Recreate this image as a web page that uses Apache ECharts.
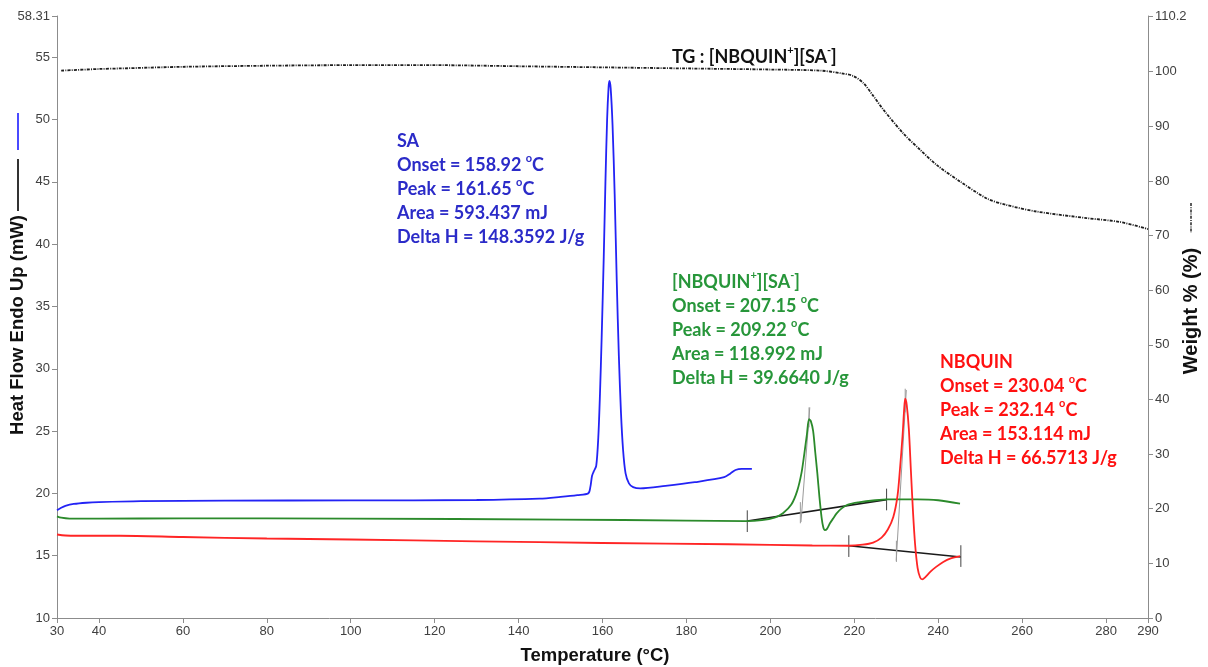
<!DOCTYPE html>
<html>
<head>
<meta charset="utf-8">
<title>DSC / TG — NBQUIN, SA and [NBQUIN+][SA-]</title>
<script src="https://cdn.jsdelivr.net/npm/echarts@6/dist/echarts.min.js"></script>
<style>
  html, body { margin: 0; padding: 0; background: #ffffff; }
  #chart { width: 1208px; height: 667px; }
</style>
</head>
<body>
<div id="chart"></div>
<script>
// ---- axis ticks ----
const tempTicks = [30, 40, 60, 80, 100, 120, 140, 160, 180, 200, 220, 240, 260, 280, 290];
const heatTicks = [10, 15, 20, 25, 30, 35, 40, 45, 50, 55, 58.31];
const weightTicks = [0, 10, 20, 30, 40, 50, 60, 70, 80, 90, 100, 110.2];

// ---- DSC curves: [temperature °C, heat flow mW] ----
const saCurve = [
  [30, 18.65], [31, 18.85], [32, 19.0], [34, 19.15], [37, 19.25], [40, 19.3], [50, 19.38],
  [70, 19.42], [100, 19.44], [130, 19.47], [145, 19.58], [150, 19.72], [154, 19.86],
  [156.6, 20.0], [157.1, 20.5], [157.5, 21.4], [157.9, 21.75], [158.5, 22.2], [159.0, 24.5],
  [159.4, 28.0], [159.8, 32.5], [160.3, 39.0], [160.7, 45.0], [161.1, 50.0], [161.45, 52.6],
  [161.65, 53.1], [161.95, 52.5], [162.4, 49.5], [162.9, 44.0], [163.4, 37.0], [163.9, 31.0],
  [164.4, 26.5], [164.9, 23.5], [165.5, 21.6], [166.3, 20.8], [167.3, 20.5], [169, 20.4],
  [175, 20.6], [182, 20.9], [189, 21.3], [190.5, 21.6], [191.7, 21.88], [193.2, 21.97], [195.6, 21.97]
];
const saltCurve = [
  [30, 18.16], [31, 18.05], [33, 17.98], [40, 17.97], [60, 18.0], [100, 17.98], [150, 17.9],
  [180, 17.82], [194, 17.78], [198, 17.85], [201, 18.05], [203, 18.4], [205, 19.1], [206.4, 20.2],
  [207.4, 21.6], [208.1, 23.2], [208.7, 24.7], [209.22, 25.95], [209.65, 25.8], [210.2, 25.0],
  [210.7, 23.3], [211.2, 21.6], [211.7, 19.7], [212.2, 18.1], [212.6, 17.3], [213.0, 17.05],
  [213.5, 17.15], [214.2, 17.6], [215.0, 18.0], [215.8, 18.4], [217, 18.8], [218.5, 19.1],
  [221, 19.28], [225, 19.45], [228, 19.52], [235, 19.52], [240, 19.45], [245.2, 19.17]
];
const nbquinCurve = [
  [30, 16.7], [32, 16.62], [35, 16.6], [45, 16.6], [60, 16.5], [80, 16.38], [100, 16.3],
  [130, 16.15], [160, 16.02], [190, 15.92], [210, 15.82], [218.6, 15.8], [222, 15.88],
  [224.5, 16.05], [226.5, 16.45], [228, 17.1], [229.3, 18.1], [230.3, 19.8], [230.9, 22.0],
  [231.5, 24.6], [231.9, 26.8], [232.14, 27.6], [232.5, 27.1], [233.0, 25.2], [233.5, 21.8],
  [234.0, 18.5], [234.5, 15.9], [235.1, 14.0], [235.7, 13.25], [236.2, 13.1], [237.0, 13.3],
  [238.1, 13.7], [239.5, 14.1], [241.2, 14.5], [243, 14.78], [245.2, 14.96]
];

// ---- TG curve: [temperature °C, weight %] ----
const tgCurve = [
  [31, 100.2], [40, 100.5], [45, 100.6], [60, 100.9], [80, 101.1], [100, 101.2], [120, 101.2],
  [140, 101.0], [160, 100.8], [180, 100.6], [200, 100.4], [212, 100.2], [217, 99.7],
  [219.8, 99.2], [222.2, 97.9], [224.5, 95.6], [227, 93.0], [231.7, 88.7], [235.7, 85.7],
  [239.7, 82.9], [245.2, 79.9], [251.6, 76.8], [256.3, 75.6], [263.5, 74.4], [275.4, 73.2],
  [283.3, 72.5], [290, 71.2]
];

// ---- peak integration marks ----
const baselineSegments = [
  [[194.5, 17.78], [227.7, 19.5]],
  [[218.7, 15.8], [245.4, 14.9]]
];
const limitSegments = [
  [[194.5, 16.9], [194.5, 18.64]],
  [[227.7, 18.64], [227.7, 20.38]],
  [[218.7, 14.9], [218.7, 16.64]],
  [[245.4, 14.1], [245.4, 15.84]]
];
const onsetSegments = [
  [[207.15, 17.6], [207.15, 19.3]],
  [[207.3, 17.7], [209.4, 26.9]],
  [[209.22, 25.3], [209.22, 26.9]],
  [[230.04, 14.5], [230.04, 16.2]],
  [[230.0, 14.6], [232.4, 28.3]],
  [[232.14, 26.5], [232.14, 28.4]]
];

// ---- annotation text ----
const saLines = ['SA', 'Onset = 158.92 {sup|o}C', 'Peak = 161.65 {sup|o}C', 'Area = 593.437 mJ', 'Delta H = 148.3592 J/g'];
const saltLines = ['[NBQUIN{sup|+}][SA{sup|-}]', 'Onset = 207.15 {sup|o}C', 'Peak = 209.22 {sup|o}C', 'Area = 118.992 mJ', 'Delta H = 39.6640 J/g'];
const nbquinLines = ['NBQUIN', 'Onset = 230.04 {sup|o}C', 'Peak = 232.14 {sup|o}C', 'Area = 153.114 mJ', 'Delta H = 66.5713 J/g'];
const tgTitle = 'TG : [NBQUIN{sup|+}][SA{sup|-}]';

const BLUE = '#2323f5', GREEN = '#2b8a2b', RED = '#ff2525';
const AXIS_GREY = '#8c8c8c', LABEL_GREY = '#404040';
const SANS = '"Liberation Sans", Arial, sans-serif';
const NOTE_FONT = 'Lato, "Open Sans", sans-serif';

function segmentSeries(segments, color, width) {
  return segments.map(seg => ({
    type: 'line', data: seg, symbol: 'none', silent: true, z: 3,
    lineStyle: { color: color, width: width }
  }));
}

function noteText(left, top, lines, color) {
  return {
    type: 'text', left: left, top: top, z: 10,
    style: {
      text: lines.join('\n'),
      fontFamily: NOTE_FONT, fontWeight: 'bold', fontSize: 18, lineHeight: 24,
      fill: color,
      rich: {
        sup: { fontFamily: NOTE_FONT, fontWeight: 'bold', fontSize: 11, lineHeight: 14,
               verticalAlign: 'top', fill: color }
      }
    }
  };
}

function axisCommon(ticks) {
  return {
    axisLine: { show: true, lineStyle: { color: AXIS_GREY, width: 1 } },
    axisTick: { show: true, customValues: ticks, length: 5, lineStyle: { color: AXIS_GREY } },
    axisLabel: { customValues: ticks, color: LABEL_GREY, fontFamily: SANS, fontSize: 13, margin: 7 },
    splitLine: { show: false }
  };
}

const chart = echarts.init(document.getElementById('chart'), null, { renderer: 'canvas' });

const option = {
  animation: false,
  backgroundColor: '#ffffff',
  grid: { left: 57, right: 60, top: 16, bottom: 49 },
  xAxis: Object.assign({ type: 'value', min: 30, max: 290 }, axisCommon(tempTicks)),
  yAxis: [
    Object.assign({ type: 'value', position: 'left', min: 10, max: 58.31 }, axisCommon(heatTicks)),
    Object.assign({ type: 'value', position: 'right', min: 0, max: 110.2 }, axisCommon(weightTicks))
  ],
  series: [
    { name: 'SA', type: 'line', data: saCurve, symbol: 'none', smooth: 0.3, z: 4,
      lineStyle: { color: BLUE, width: 1.8 } },
    { name: '[NBQUIN+][SA-]', type: 'line', data: saltCurve, symbol: 'none', smooth: 0.3, z: 4,
      lineStyle: { color: GREEN, width: 1.8 } },
    { name: 'NBQUIN', type: 'line', data: nbquinCurve, symbol: 'none', smooth: 0.3, z: 4,
      lineStyle: { color: RED, width: 1.8 } },
    { name: 'TG', type: 'line', yAxisIndex: 1, data: tgCurve, symbol: 'none', smooth: 0.3, z: 4,
      lineStyle: { color: '#1e1e1e', width: 1.8, type: [3, 1.2, 1, 1.2] } }
  ]
    .concat(segmentSeries(baselineSegments, '#1a1a1a', 1.6))
    .concat(segmentSeries(limitSegments, '#444444', 1))
    .concat(segmentSeries(onsetSegments, '#9a9a9a', 1)),
  graphic: [
    // axis titles
    { type: 'text', x: 595, y: 656, z: 10,
      style: { text: 'Temperature (°C)', fontFamily: SANS, fontWeight: 'bold', fontSize: 18.5,
               fill: '#111', align: 'center', verticalAlign: 'middle' } },
    { type: 'text', x: 18, y: 325, rotation: Math.PI / 2, z: 10,
      style: { text: 'Heat Flow Endo Up (mW)', fontFamily: SANS, fontWeight: 'bold', fontSize: 18.5,
               fill: '#111', align: 'center', verticalAlign: 'middle' } },
    { type: 'text', x: 1191, y: 311, rotation: Math.PI / 2, z: 10,
      style: { text: 'Weight % (%)', fontFamily: SANS, fontWeight: 'bold', fontSize: 20,
               fill: '#111', align: 'center', verticalAlign: 'middle' } },
    // line-style keys beside the axis titles
    { type: 'line', z: 10, shape: { x1: 18, y1: 113, x2: 18, y2: 150 },
      style: { stroke: '#4a4aff', lineWidth: 2 } },
    { type: 'line', z: 10, shape: { x1: 18, y1: 159, x2: 18, y2: 211 },
      style: { stroke: '#333333', lineWidth: 2 } },
    { type: 'line', z: 10, shape: { x1: 1191, y1: 203, x2: 1191, y2: 233 },
      style: { stroke: '#333333', lineWidth: 1.6, lineDash: [3, 1.2, 1, 1.2] } },
    // peak reports
    noteText(397, 129, saLines, '#2b2bc8'),
    noteText(672, 270, saltLines, '#27963a'),
    noteText(940, 350, nbquinLines, '#ff1010'),
    noteText(672, 45, [tgTitle], '#111111')
  ]
};

chart.setOption(option);
</script>
</body>
</html>
